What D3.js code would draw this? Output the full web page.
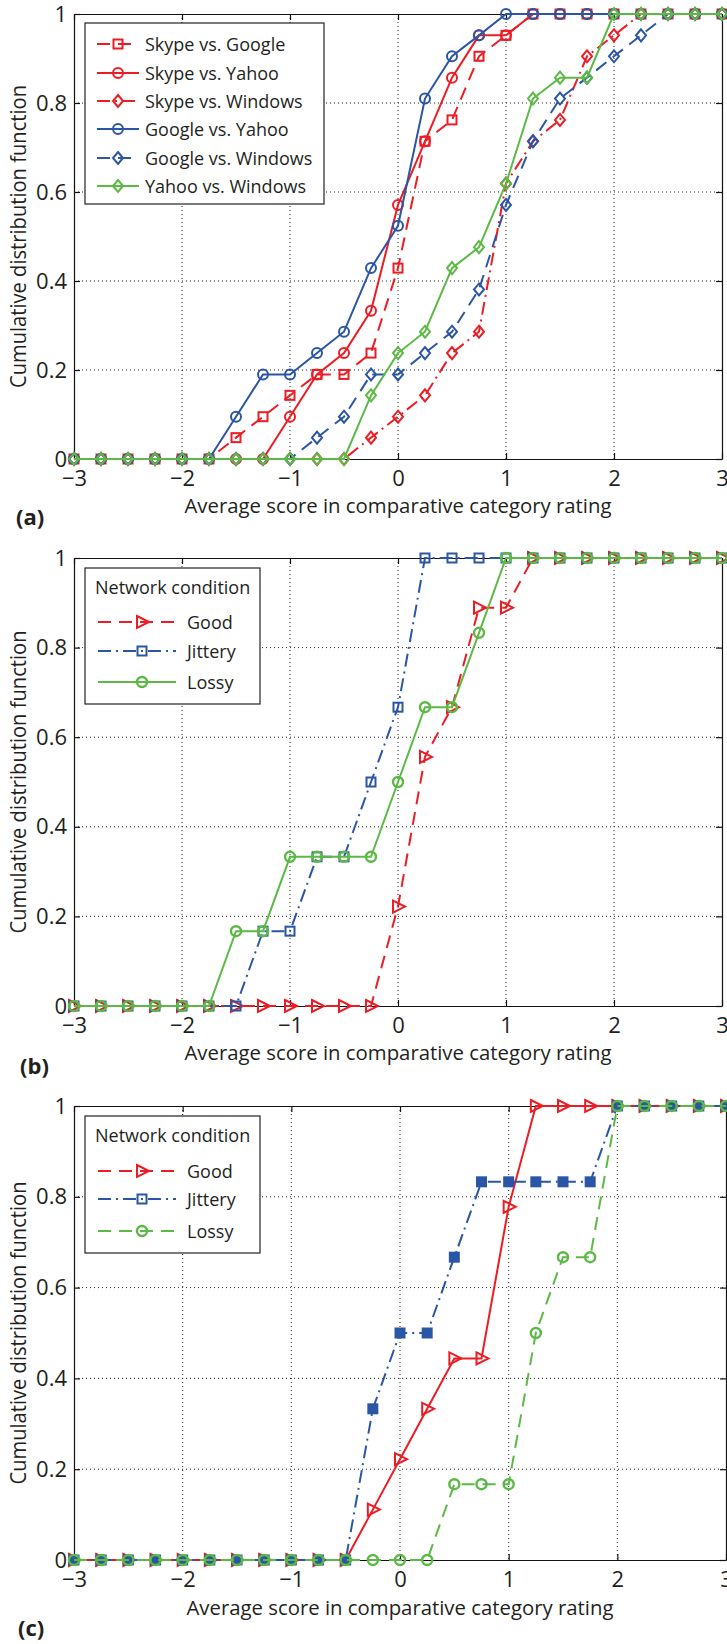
<!DOCTYPE html>
<html>
<head>
<meta charset="utf-8">
<script src="https://cdn.jsdelivr.net/npm/d3@7"></script>
<style>
  body { margin: 0; background: #fff; }
  text { font-family: "Open Sans", sans-serif; fill: #231f20; }
</style>
</head>
<body>
<svg id="chart" width="727" height="1644"></svg>
<script>
// x positions of every point (average CCR score)
var scores = [-3, -2.75, -2.5, -2.25, -2, -1.75, -1.5, -1.25, -1, -0.75, -0.5, -0.25, 0,
              0.25, 0.5, 0.75, 1, 1.25, 1.5, 1.75, 2, 2.25, 2.5, 2.75, 3];
var xTicks = [-3, -2, -1, 0, 1, 2, 3];
var yTicks = [0, 0.2, 0.4, 0.6, 0.8, 1];

// (a) pairwise comparisons
var skypeGoogle   = [0, 0, 0, 0, 0, 0, 0.048, 0.095, 0.143, 0.190, 0.190, 0.238, 0.429, 0.714, 0.762, 0.905, 0.952, 1, 1, 1, 1, 1, 1, 1, 1];
var skypeYahoo    = [0, 0, 0, 0, 0, 0, 0, 0, 0.095, 0.190, 0.238, 0.333, 0.571, 0.714, 0.857, 0.952, 0.952, 1, 1, 1, 1, 1, 1, 1, 1];
var skypeWindows  = [0, 0, 0, 0, 0, 0, 0, 0, 0, 0, 0, 0.048, 0.095, 0.143, 0.238, 0.286, 0.619, 0.714, 0.762, 0.905, 0.952, 1, 1, 1, 1];
var googleYahoo   = [0, 0, 0, 0, 0, 0, 0.095, 0.190, 0.190, 0.238, 0.286, 0.429, 0.524, 0.810, 0.905, 0.952, 1, 1, 1, 1, 1, 1, 1, 1, 1];
var googleWindows = [0, 0, 0, 0, 0, 0, 0, 0, 0, 0.048, 0.095, 0.190, 0.190, 0.238, 0.286, 0.381, 0.571, 0.714, 0.810, 0.857, 0.905, 0.952, 1, 1, 1];
var yahooWindows  = [0, 0, 0, 0, 0, 0, 0, 0, 0, 0, 0, 0.143, 0.238, 0.286, 0.429, 0.476, 0.619, 0.810, 0.857, 0.857, 1, 1, 1, 1, 1];
var pairNames = ["Skype vs. Google", "Skype vs. Yahoo", "Skype vs. Windows", "Google vs. Yahoo", "Google vs. Windows", "Yahoo vs. Windows"];

// (b) network conditions
var goodB    = [0, 0, 0, 0, 0, 0, 0, 0, 0, 0, 0, 0, 0.222, 0.556, 0.667, 0.889, 0.889, 1, 1, 1, 1, 1, 1, 1, 1];
var jitteryB = [0, 0, 0, 0, 0, 0, 0, 0.167, 0.167, 0.333, 0.333, 0.5, 0.667, 1, 1, 1, 1, 1, 1, 1, 1, 1, 1, 1, 1];
var lossyB   = [0, 0, 0, 0, 0, 0, 0.167, 0.167, 0.333, 0.333, 0.333, 0.333, 0.5, 0.667, 0.667, 0.833, 1, 1, 1, 1, 1, 1, 1, 1, 1];

// (c) network conditions
var goodC    = [0, 0, 0, 0, 0, 0, 0, 0, 0, 0, 0, 0.111, 0.222, 0.333, 0.444, 0.444, 0.778, 1, 1, 1, 1, 1, 1, 1, 1];
var jitteryC = [0, 0, 0, 0, 0, 0, 0, 0, 0, 0, 0, 0.333, 0.5, 0.5, 0.667, 0.833, 0.833, 0.833, 0.833, 0.833, 1, 1, 1, 1, 1];
var lossyC   = [0, 0, 0, 0, 0, 0, 0, 0, 0, 0, 0, 0, 0, 0, 0.167, 0.167, 0.167, 0.5, 0.667, 0.667, 1, 1, 1, 1, 1];
var conditionNames = ["Good", "Jittery", "Lossy"];

var red = "#ed1c24", blue = "#2b56a5", green = "#5cb946";
var DASH = "13,8", DASHDOT = "13,5,2,5";

var svg = d3.select("#chart");

function drawMarker(g, type, color, filled, cx, cy) {
  var m;
  if (type == "circle") {
    m = g.append("circle").attr("cx", cx).attr("cy", cy).attr("r", 5);
  } else if (type == "square") {
    m = g.append("rect").attr("x", cx - 4.5).attr("y", cy - 4.5).attr("width", 9).attr("height", 9);
  } else if (type == "diamond") {
    m = g.append("path").attr("d", "M" + cx + "," + (cy - 6) + "L" + (cx + 5) + "," + cy +
                                  "L" + cx + "," + (cy + 6) + "L" + (cx - 5) + "," + cy + "Z");
  } else {
    m = g.append("path").attr("d", "M" + (cx - 5) + "," + (cy - 6) + "L" + (cx + 7) + "," + cy +
                                  "L" + (cx - 5) + "," + (cy + 6) + "Z");
  }
  m.attr("fill", filled ? color : "none")
    .attr("stroke", color)
    .attr("stroke-width", type == "circle" && color == green ? 2.4 : 2);
}

function drawPanel(p) {
  var x = d3.scaleLinear().domain([-3, 3]).range([p.left, p.right]);
  var y = d3.scaleLinear().domain([0, 1]).range([p.bottom, p.top]);
  var g = svg.append("g");

  // dotted grid
  g.selectAll(".gx").data(xTicks.slice(1, -1)).enter().append("line")
    .attr("x1", d => x(d)).attr("x2", d => x(d)).attr("y1", p.top).attr("y2", p.bottom);
  g.selectAll(".gy").data(yTicks.slice(1, -1)).enter().append("line")
    .attr("y1", d => y(d)).attr("y2", d => y(d)).attr("x1", p.left).attr("x2", p.right);
  g.selectAll("line").attr("stroke", "#222").attr("stroke-width", 1).attr("stroke-dasharray", "1,3");

  // box and inward ticks on all four sides
  var axes = [
    [d3.axisBottom(x).tickValues(xTicks).tickPadding(11).tickFormat(d3.format("d")), "translate(0," + p.bottom + ")"],
    [d3.axisLeft(y).tickValues(yTicks).tickPadding(7).tickFormat(d3.format("~g")), "translate(" + p.left + ",0)"],
    [d3.axisTop(x).tickValues(xTicks).tickFormat(""), "translate(0," + p.top + ")"],
    [d3.axisRight(y).tickValues(yTicks).tickFormat(""), "translate(" + p.right + ",0)"]
  ];
  axes.forEach(function(a) {
    var ax = g.append("g").attr("transform", a[1])
      .call(a[0].tickSizeInner(-6).tickSizeOuter(0));
    ax.selectAll("path, line").attr("stroke", "#111").attr("stroke-width", 1.2);
    ax.selectAll("text").attr("font-size", 22).attr("font-family", "Open Sans").attr("fill", "#231f20");
  });

  var line = d3.line().x((d, i) => x(scores[i])).y(d => y(d));
  p.series.forEach(function(s) {
    var sg = g.append("g");
    sg.append("path").datum(s.values).attr("d", line)
      .attr("fill", "none").attr("stroke", s.color).attr("stroke-width", 2)
      .attr("stroke-dasharray", s.dash);
    s.values.forEach(function(v, i) {
      drawMarker(sg, s.marker, s.color, s.filled, x(scores[i]), y(v));
    });
  });

  // legend
  var L = p.legend;
  var lg = g.append("g");
  lg.append("rect").attr("x", 85).attr("y", p.top + L.boxTop)
    .attr("width", L.boxW).attr("height", L.boxH)
    .attr("fill", "#fff").attr("stroke", "#222").attr("stroke-width", 1.2);
  if (L.title) {
    lg.append("text").attr("x", 95).attr("y", p.top + 35.5).attr("font-size", 18).text(L.title);
  }
  L.items.forEach(function(it, i) {
    var ly = p.top + L.rows[i];
    lg.append("line").attr("x1", L.x1).attr("x2", L.x2).attr("y1", ly).attr("y2", ly)
      .attr("stroke", it.color).attr("stroke-width", 2).attr("stroke-dasharray", it.dash);
    drawMarker(lg, it.marker, it.color, false, L.mx, ly);
    lg.append("text").attr("x", L.tx).attr("y", ly + 6.5).attr("font-size", 18).text(it.name);
  });

  // axis titles and panel tag
  g.append("text").attr("x", (p.left + p.right) / 2).attr("y", p.xLabelY)
    .attr("text-anchor", "middle").attr("font-size", 20)
    .attr("textLength", 427).attr("lengthAdjust", "spacingAndGlyphs")
    .text("Average score in comparative category rating");
  g.append("text").attr("transform", "translate(26," + (p.top + p.bottom) / 2 + ") rotate(-90)")
    .attr("text-anchor", "middle").attr("font-size", 21)
    .attr("textLength", 303).attr("lengthAdjust", "spacingAndGlyphs")
    .text("Cumulative distribution function");
  g.append("text").attr("x", p.tagX).attr("y", p.tagY)
    .attr("font-size", 22).attr("font-weight", "bold").text(p.tag);
}

var pairSeries = [
  { values: skypeGoogle,   color: red,   dash: DASH,    marker: "square" },
  { values: skypeYahoo,    color: red,   dash: null,    marker: "circle" },
  { values: skypeWindows,  color: red,   dash: DASHDOT, marker: "diamond" },
  { values: googleYahoo,   color: blue,  dash: null,    marker: "circle" },
  { values: googleWindows, color: blue,  dash: DASH,    marker: "diamond" },
  { values: yahooWindows,  color: green, dash: null,    marker: "diamond" }
];

drawPanel({
  left: 74, right: 722, top: 14, bottom: 459, xLabelY: 513, tag: "(a)", tagX: 16, tagY: 525,
  series: pairSeries,
  legend: {
    boxTop: 9, boxW: 239, boxH: 181, rows: [30, 59, 87, 115, 144, 172], x1: 97, x2: 139, mx: 118, tx: 145,
    items: pairSeries.map((s, i) => ({ name: pairNames[i], color: s.color, dash: s.dash, marker: s.marker }))
  }
});

drawPanel({
  left: 74, right: 722, top: 558, bottom: 1006, xLabelY: 1060, tag: "(b)", tagX: 20, tagY: 1074,
  series: [
    { values: goodB,    color: red,   dash: DASH,    marker: "triangle" },
    { values: jitteryB, color: blue,  dash: DASHDOT, marker: "square" },
    { values: lossyB,   color: green, dash: null,    marker: "circle" }
  ],
  legend: {
    title: "Network condition", boxTop: 10, boxW: 175, boxH: 136, rows: [64, 93, 124], x1: 98, x2: 176, mx: 142, tx: 187,
    items: [
      { name: conditionNames[0], color: red,   dash: DASH,    marker: "triangle" },
      { name: conditionNames[1], color: blue,  dash: DASHDOT, marker: "square" },
      { name: conditionNames[2], color: green, dash: null,    marker: "circle" }
    ]
  }
});

drawPanel({
  left: 74, right: 726, top: 1106, bottom: 1560, xLabelY: 1615, tag: "(c)", tagX: 18, tagY: 1636,
  series: [
    { values: goodC,    color: red,   dash: null,    marker: "triangle" },
    { values: jitteryC, color: blue,  dash: DASHDOT, marker: "square", filled: true },
    { values: lossyC,   color: green, dash: DASH,    marker: "circle" }
  ],
  legend: {
    title: "Network condition", boxTop: 10, boxW: 175, boxH: 137, rows: [65, 93, 125], x1: 98, x2: 176, mx: 142, tx: 187,
    items: [
      { name: conditionNames[0], color: red,   dash: DASH,    marker: "triangle" },
      { name: conditionNames[1], color: blue,  dash: DASHDOT, marker: "square" },
      { name: conditionNames[2], color: green, dash: DASH,    marker: "circle" }
    ]
  }
});
</script>
</body>
</html>
